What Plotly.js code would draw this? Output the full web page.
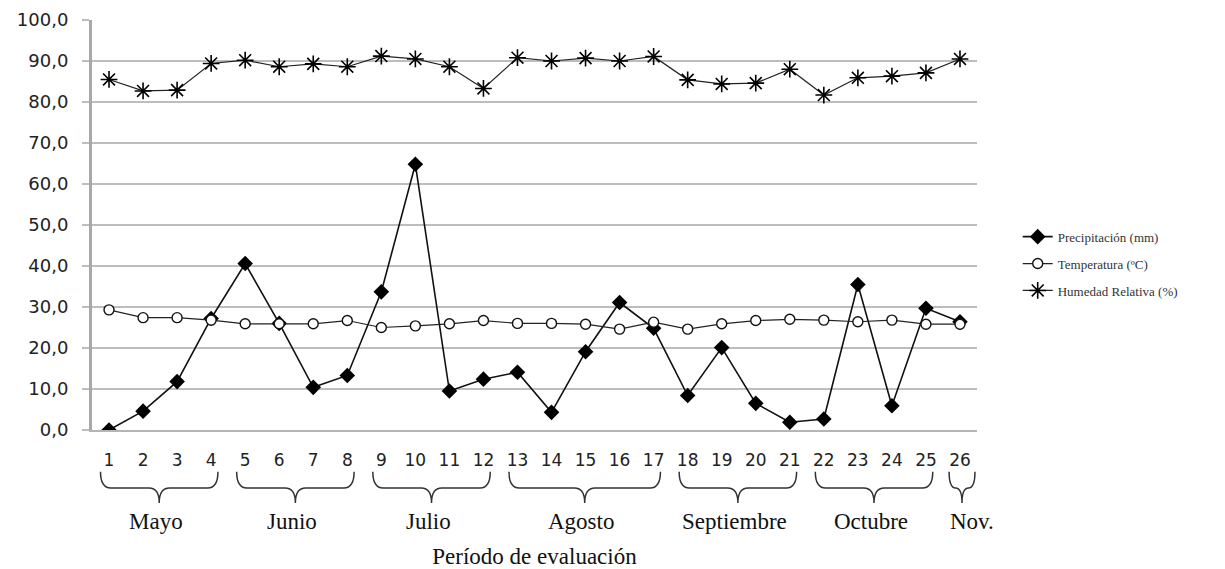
<!DOCTYPE html>
<html>
<head>
<meta charset="utf-8">
<script src="https://cdn.plot.ly/plotly-3.0.1.min.js"></script>
<style>
html,body{margin:0;padding:0;background:#fff;}
#chart{width:1225px;height:569px;}
</style>
</head>
<body>
<div id="chart"></div>
<script>
// ---- data ----
const periods = ['1','2','3','4','5','6','7','8','9','10','11','12','13','14','15','16','17','18','19','20','21','22','23','24','25','26'];
const precipitacion = [0, 4.6, 11.8, 27.2, 40.6, 26.0, 10.4, 13.3, 33.7, 64.8, 9.5, 12.4, 14.1, 4.3, 19.1, 31.1, 24.8, 8.4, 20.1, 6.5, 1.9, 2.7, 35.5, 5.9, 29.7, 26.4];
const temperatura = [29.3, 27.4, 27.4, 26.8, 25.9, 25.9, 25.9, 26.7, 25.0, 25.4, 25.9, 26.7, 26.0, 26.0, 25.8, 24.6, 26.3, 24.6, 25.9, 26.7, 27.0, 26.8, 26.4, 26.8, 25.8, 25.8];
const humedad = [85.5, 82.7, 82.9, 89.4, 90.2, 88.6, 89.3, 88.6, 91.2, 90.5, 88.6, 83.3, 90.8, 90.0, 90.7, 90.0, 91.1, 85.4, 84.4, 84.6, 88.0, 81.7, 85.9, 86.3, 87.1, 90.5];
const months = ['Mayo','Junio','Julio','Agosto','Septiembre','Octubre','Nov.'];
const monthStart = [1, 5, 9, 13, 18, 22, 26];
const monthEnd = [4, 8, 12, 17, 21, 25, 26];
const seriesNames = ['Precipitación (mm)', 'Temperatura (ºC)', 'Humedad Relativa (%)'];
const xTitle = 'Período de evaluación';

const xVals = periods.map(Number);

const traces = [
  {
    x: xVals, y: precipitacion, name: seriesNames[0], type: 'scatter', mode: 'lines+markers',
    legendgroup: 'g1',
    line: {color: '#111', width: 1.6},
    marker: {symbol: 'diamond', size: 12, color: '#000'}
  },
  {
    x: xVals, y: temperatura, name: seriesNames[1], type: 'scatter', mode: 'lines+markers',
    legendgroup: 'g2',
    line: {color: '#222', width: 1.2},
    marker: {symbol: 'circle', size: 10, color: '#fff', line: {color: '#111', width: 1.4}}
  },
  {
    x: xVals, y: humedad, name: seriesNames[2], type: 'scatter', mode: 'lines+markers',
    legendgroup: 'g3',
    line: {color: '#222', width: 1.2},
    marker: {symbol: 'asterisk-open', size: 14, color: '#000', line: {color: '#000', width: 1.6}}
  }
];

// braces under month groups
const yTop = -0.102, yMid = -0.1415, yTip = -0.178;
const shapes = [];
const annotations = [];
months.forEach((m, i) => {
  const single = monthStart[i] === monthEnd[i];
  const xl = monthStart[i] - (single ? 0.32 : 0.25);
  const xr = monthEnd[i] + (single ? 0.44 : 0.2);
  const xc = (xl + xr) / 2;
  const r = Math.min(0.3, (xr - xl) / 4);
  const path = `M ${xl},${yTop} Q ${xl},${yMid} ${xl + r},${yMid} L ${xc - r},${yMid} ` +
    `Q ${xc},${yMid} ${xc},${yTip} Q ${xc},${yMid} ${xc + r},${yMid} L ${xr - r},${yMid} ` +
    `Q ${xr},${yMid} ${xr},${yTop}`;
  shapes.push({type: 'path', xref: 'x', yref: 'paper', path: path,
    line: {color: '#333', width: 1.5}});
  annotations.push({x: xc + (single ? 0.3 : -0.1), y: -0.222, xref: 'x', yref: 'paper',
    text: m, showarrow: false, xanchor: 'center', yanchor: 'middle',
    font: {family: 'Liberation Serif, Times New Roman, serif', size: 23, color: '#111'}});
});

const layout = {
  width: 1225, height: 569,
  margin: {l: 92, r: 248, t: 20, b: 139},
  paper_bgcolor: '#fff', plot_bgcolor: '#fff',
  separators: ',.',
  showlegend: true,
  legend: {
    x: 1.046, y: 0.508, xanchor: 'left', yanchor: 'top',
    font: {family: 'Liberation Serif, Times New Roman, serif', size: 13, color: '#333'},
    tracegroupgap: 7, bgcolor: 'rgba(0,0,0,0)'
  },
  xaxis: {
    range: [0.5, 26.5],
    tickmode: 'array', tickvals: xVals, ticktext: periods,
    showgrid: false, zeroline: false,
    showline: true, linecolor: '#b5b5b5', linewidth: 2,
    ticks: '', ticklabelstandoff: 14,
    tickfont: {family: 'DejaVu Sans, Verdana, sans-serif', size: 17, color: '#222'},
    title: {text: xTitle, standoff: 84,
      font: {family: 'Liberation Serif, Times New Roman, serif', size: 23, color: '#111'}}
  },
  yaxis: {
    range: [0, 100], tickmode: 'linear', tick0: 0, dtick: 10,
    tickformat: '.1f',
    showgrid: true, gridcolor: '#bdbdbd', gridwidth: 2,
    zeroline: false,
    showline: true, linecolor: '#a8a8a8', linewidth: 3,
    ticks: 'outside', ticklen: 7, tickcolor: '#bdbdbd', tickwidth: 2,
    ticklabelstandoff: 10,
    tickfont: {family: 'DejaVu Sans, Verdana, sans-serif', size: 18, color: '#222'}
  },
  shapes: shapes,
  annotations: annotations
};

Plotly.newPlot('chart', traces, layout, {displayModeBar: false, staticPlot: true});
</script>
</body>
</html>
